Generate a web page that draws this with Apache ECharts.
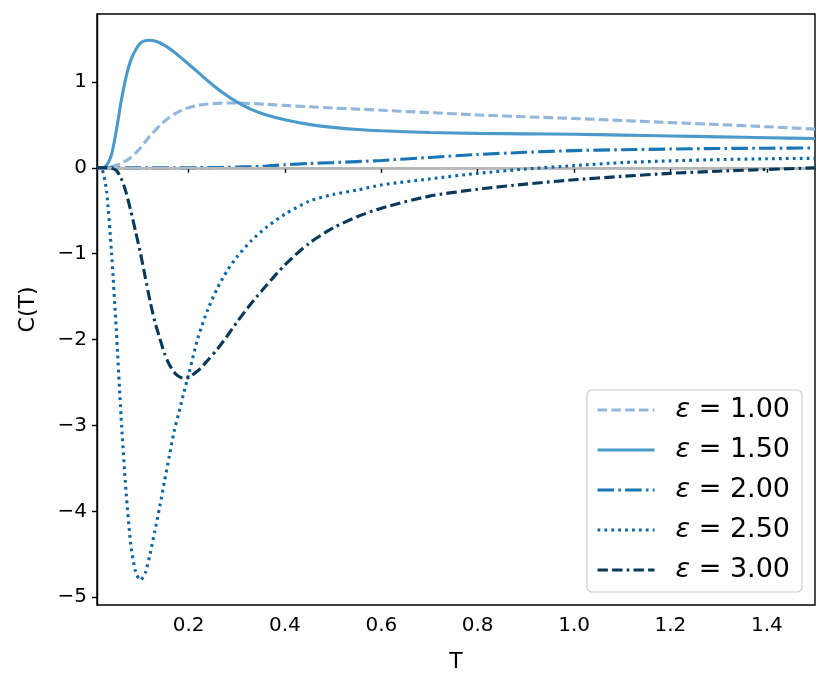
<!DOCTYPE html>
<html>
<head>
<meta charset="utf-8">
<script src="https://cdn.jsdelivr.net/npm/echarts@6/dist/echarts.min.js"></script>
<style>html,body{margin:0;padding:0;background:#fff}#c{width:830px;height:691px}</style>
</head>
<body>
<div id="c"></div>
<script>
const T = [0.01, 0.02, 0.03, 0.04, 0.05, 0.06, 0.07, 0.08, 0.09, 0.10, 0.11, 0.12, 0.13, 0.14, 0.15, 0.16, 0.17, 0.18, 0.19, 0.20, 0.22, 0.24, 0.26, 0.28, 0.30, 0.33, 0.36, 0.40, 0.45, 0.50, 0.55, 0.60, 0.70, 0.80, 0.90, 1.00, 1.10, 1.20, 1.30, 1.40, 1.50];
const epsLabels = ['1.00', '1.50', '2.00', '2.50', '3.00'];
const C_eps100 = [0, 0, 0.005, 0.015, 0.03, 0.05, 0.08, 0.12, 0.17, 0.23, 0.30, 0.37, 0.43, 0.49, 0.54, 0.585, 0.622, 0.654, 0.68, 0.70, 0.727, 0.742, 0.75, 0.754, 0.754, 0.748, 0.739, 0.726, 0.71, 0.695, 0.683, 0.67, 0.642, 0.615, 0.593, 0.574, 0.55, 0.526, 0.503, 0.478, 0.45];
const C_eps150 = [0, 0, 0.03, 0.15, 0.43, 0.77, 1.05, 1.25, 1.37, 1.45, 1.48, 1.485, 1.475, 1.455, 1.425, 1.39, 1.348, 1.302, 1.255, 1.207, 1.11, 1.012, 0.92, 0.838, 0.767, 0.68, 0.618, 0.56, 0.505, 0.47, 0.445, 0.43, 0.41, 0.40, 0.395, 0.39, 0.38, 0.37, 0.36, 0.35, 0.34];
const C_eps200 = [0, 0, 0, 0, 0, 0, 0, 0, 0, 0, 0, 0, 0, 0, 0, 0, 0, 0, 0, 0, 0.001, 0.002, 0.003, 0.005, 0.008, 0.013, 0.02, 0.035, 0.05, 0.06, 0.072, 0.085, 0.12, 0.155, 0.18, 0.20, 0.21, 0.218, 0.224, 0.228, 0.23];
const C_eps250 = [0, -0.01, -0.28, -0.98, -1.88, -2.9, -3.75, -4.38, -4.7, -4.8, -4.72, -4.5, -4.23, -3.95, -3.65, -3.36, -3.07, -2.85, -2.62, -2.41, -1.97, -1.65, -1.40, -1.20, -1.04, -0.85, -0.70, -0.54, -0.39, -0.31, -0.26, -0.20, -0.13, -0.065, -0.015, 0.025, 0.06, 0.08, 0.095, 0.105, 0.11];
const C_eps300 = [0, 0, 0, -0.005, -0.03, -0.12, -0.28, -0.5, -0.74, -0.99, -1.27, -1.55, -1.79, -1.98, -2.16, -2.29, -2.38, -2.43, -2.45, -2.44, -2.36, -2.24, -2.11, -1.96, -1.80, -1.58, -1.38, -1.13, -0.88, -0.70, -0.57, -0.47, -0.33, -0.25, -0.19, -0.14, -0.10, -0.065, -0.04, -0.02, 0.0];
const xTicks = [0.2, 0.4, 0.6, 0.8, 1.0, 1.2, 1.4];
const yTicks = [-5, -4, -3, -2, -1, 0, 1];

const seriesValues = [C_eps100, C_eps150, C_eps200, C_eps250, C_eps300];
const colors = ['#93b7da', '#4b9acb', '#1a75b5', '#0c65a4', '#08385a'];
const dashes = [[9.6, 4.2], 'solid', [16.6, 4.2, 2.6, 4.2], [2.8, 4.1], [10.4, 4.2, 10.4, 4.2, 2.6, 4.2]];
const names = epsLabels.map(e => '{e|ε} = ' + e);

const series = [{
  type: 'line', name: 'zero', data: [], z: 1, silent: true,
  markLine: {
    silent: true, symbol: 'none', label: {show: false},
    lineStyle: {color: '#b8b8b8', width: 1.8, type: 'solid', opacity: 1},
    emphasis: {disabled: true},
    data: [{yAxis: 0}], animation: false
  }
}];
seriesValues.forEach((vals, i) => {
  series.push({
    type: 'line', name: names[i], z: 2 + i,
    data: T.map((t, k) => [t, vals[k]]),
    showSymbol: false, symbol: 'none', smooth: 0.25,
    lineStyle: {color: colors[i], width: 3.1, type: dashes[i], cap: 'butt'},
    itemStyle: {color: colors[i]},
    emphasis: {disabled: true},
    animation: false
  });
});

const chart = echarts.init(document.getElementById('c'), null, {renderer: 'canvas'});
const fontFam = 'DejaVu Sans';
chart.setOption({
  backgroundColor: '#fff',
  animation: false,
  grid: {left: 97, right: 15, top: 14, bottom: 86, show: true, borderColor: '#000', borderWidth: 1.4, backgroundColor: 'transparent'},
  xAxis: {
    type: 'value', min: 0.01, max: 1.5,
    name: 'T', nameLocation: 'middle', nameGap: 46,
    nameTextStyle: {fontFamily: fontFam, fontSize: 22, color: '#000'},
    axisLine: {show: true, lineStyle: {color: '#000', width: 1.4}},
    axisTick: {show: true, length: 5, lineStyle: {color: '#000', width: 1.4}, customValues: xTicks},
    axisLabel: {fontFamily: fontFam, fontSize: 20, color: '#000', margin: 11, customValues: xTicks, formatter: v => v.toFixed(1)},
    splitLine: {show: false}
  },
  yAxis: {
    type: 'value', min: -5.09, max: 1.79,
    name: 'C(T)', nameLocation: 'middle', nameGap: 58, nameRotate: 90,
    nameTextStyle: {fontFamily: fontFam, fontSize: 22, color: '#000'},
    axisLine: {show: true, lineStyle: {color: '#000', width: 1.4}},
    axisTick: {show: true, length: 5, lineStyle: {color: '#000', width: 1.4}, customValues: yTicks},
    axisLabel: {fontFamily: fontFam, fontSize: 20, color: '#000', margin: 10, customValues: yTicks, formatter: v => (v < 0 ? '\u2212' + Math.abs(v) : String(v))},
    splitLine: {show: false}
  },
  legend: {
    data: names, orient: 'vertical', right: 28, bottom: 99,
    backgroundColor: 'rgba(255,255,255,0.8)', borderColor: '#cccccc', borderWidth: 1.2, borderRadius: 5,
    padding: [5, 12, 7, 9], itemGap: 10, itemWidth: 57, itemHeight: 16,
    selectedMode: false,
    itemStyle: {opacity: 0},
    lineStyle: {width: 3.1},
    textStyle: {fontFamily: fontFam, fontSize: 27, color: '#000', lineHeight: 30, padding: [0, 0, 0, 16],
      rich: {e: {fontFamily: fontFam, fontStyle: 'italic', fontSize: 27, color: '#000', lineHeight: 30}}}
  },
  series: series
});
</script>
</body>
</html>
